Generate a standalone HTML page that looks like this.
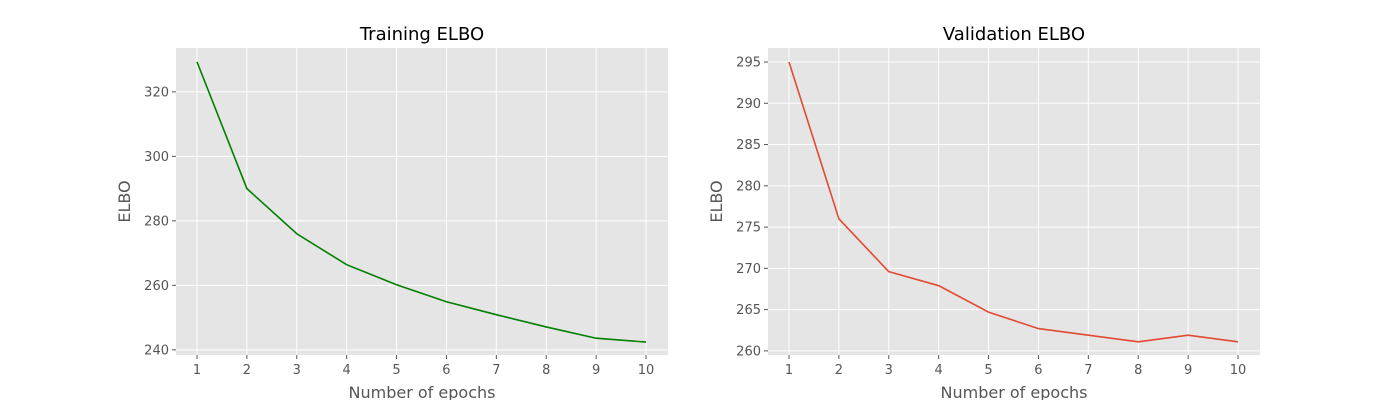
<!DOCTYPE html>
<html><head><meta charset="utf-8"><style>
body{margin:0;background:#fff;width:1400px;height:400px;overflow:hidden}
svg{font-family:"DejaVu Sans","Liberation Sans",sans-serif}
</style></head><body>
<svg id="c" width="1400" height="400"></svg>
<script>
const epochs=[1,2,3,4,5,6,7,8,9,10];
const trainElbo=[329.3,290.0,276.0,266.4,260.2,254.9,250.9,247.1,243.6,242.4];
const valElbo=[295.0,276.0,269.6,267.9,264.7,262.7,261.9,261.1,261.9,261.1];
const trainTicks=[240,260,280,300,320];
const valTicks=[260,265,270,275,280,285,290,295];
const NS='http://www.w3.org/2000/svg';
const svg=document.getElementById('c');
function mk(t,a,p){const e=document.createElementNS(NS,t);for(const k in a)e.setAttribute(k,a[k]);(p||svg).appendChild(e);return e;}
function panel(name,x0,title,vals,ticks,ymin,ymax,color){
  const L=x0,R=x0+492,T=48,B=355;
  const g=mk('g',{});
  
  
  mk('rect',{x:L,y:T,width:R-L,height:B-T,fill:'#e5e5e5'},g);
  const xs=v=>L+21+(v-1)*(449/9);
  const ys=v=>B-(v-ymin)/(ymax-ymin)*(B-T);
  ticks.forEach(t=>{const y=ys(t);
    mk('line',{x1:L,x2:R,y1:y,y2:y,stroke:'#fff','stroke-width':1},g);
    mk('line',{x1:L-4,x2:L,y1:y,y2:y,stroke:'#555'},g);
    const tx=mk('text',{x:L-7,y:y+4.5,'text-anchor':'end','font-size':13,fill:'#555'},g);tx.textContent=t;
    
    });
  epochs.forEach(e=>{const x=xs(e);
    mk('line',{x1:x,x2:x,y1:T,y2:B,stroke:'#fff','stroke-width':1},g);
    mk('line',{x1:x,x2:x,y1:B,y2:B+4,stroke:'#555'},g);
    const tx=mk('text',{x:x,y:B+19,'text-anchor':'middle','font-size':13,fill:'#555'},g);tx.textContent=e;
    
    });
  const pl=mk('polyline',{points:vals.map((v,i)=>xs(epochs[i])+','+ys(v)).join(' '),fill:'none',stroke:color,'stroke-width':1.6},g);
  
  
  const ti=mk('text',{x:(L+R)/2,y:40,'text-anchor':'middle','font-size':18,fill:'#000'},g);ti.textContent=title;
  
  
  const xl=mk('text',{x:(L+R)/2,y:398,'text-anchor':'middle','font-size':16,fill:'#555'},g);xl.textContent='Number of epochs';
  
  
  const yl=mk('text',{x:0,y:0,'text-anchor':'middle','font-size':16,fill:'#555',transform:`translate(${L-46},${(T+B)/2}) rotate(-90)`},g);yl.textContent='ELBO';
  
  
}
panel('training',176,'Training ELBO',trainElbo,trainTicks,238.4,333.6,'#008000');
panel('validation',768,'Validation ELBO',valElbo,valTicks,259.5,296.7,'#e24a33');
</script>
</body></html>
